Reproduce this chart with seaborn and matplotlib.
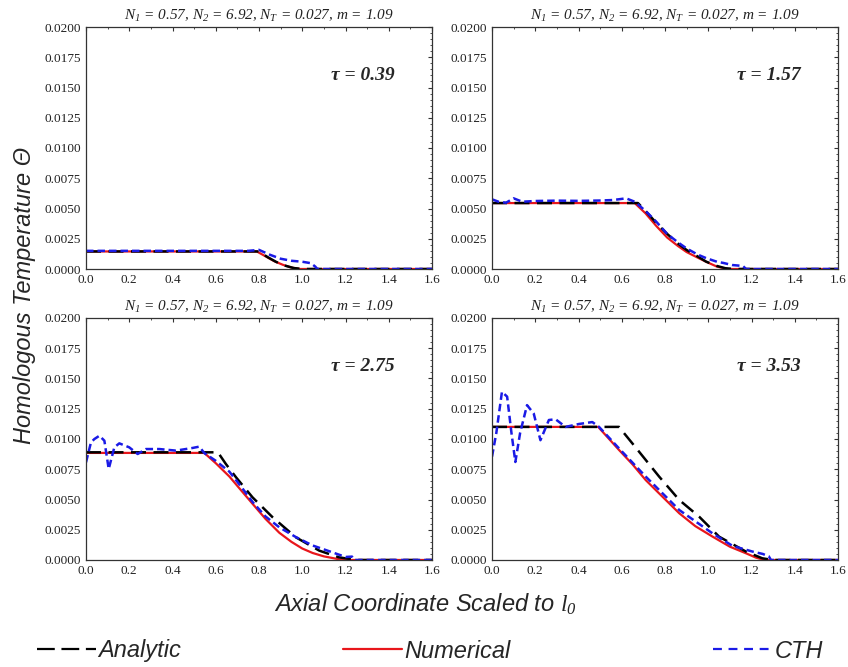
import numpy as np
import pandas as pd
from matplotlib import pyplot as plt
from matplotlib.ticker import AutoMinorLocator, MultipleLocator
from matplotlib.lines import Line2D
import seaborn as sns

sns.set_style('white')
plt.rcParams['mathtext.fontset'] = 'custom'
plt.rcParams['mathtext.it'] = 'Liberation Serif:italic'
plt.rcParams['mathtext.rm'] = 'Liberation Serif:italic'

title_txt = r"$N_1$ = 0.57, $N_2$ = 6.92, $N_T$ = 0.027, $m$ = 1.09"
taus = ['0.39', '1.57', '2.75', '3.53']

# tau = 0.39
x_num1 = [0, 0.79, 0.83, 0.87, 0.91, 0.95, 0.99, 1.6]
y_num1 = [0.00145, 0.00145, 0.00105, 0.00065, 0.00035, 0.00012, 0.0, 0.0]
x_an1 = [0, 0.80, 0.84, 0.88, 0.92, 0.96, 1.0, 1.6]
y_an1 = [0.00145, 0.00145, 0.00098, 0.00058, 0.00028, 0.00008, 0, 0]
x_cth1 = [0, 0.2, 0.4, 0.6, 0.75, 0.80, 0.85, 0.9, 0.95, 1.0, 1.04, 1.06, 1.07, 1.6]
y_cth1 = [0.0015, 0.0015, 0.0015, 0.0015, 0.0015, 0.00158, 0.00118, 0.00085, 0.00068, 0.0006, 0.00048, 0.0002, 0, 0]

# tau = 1.57
x_num2 = [0, 0.66, 0.71, 0.76, 0.81, 0.86, 0.90, 0.95, 0.99, 1.04, 1.09, 1.6]
y_num2 = [0.00545, 0.00545, 0.0046, 0.00355, 0.0026, 0.0019, 0.0014, 0.00095, 0.0006, 0.0002, 0, 0]
x_an2 = [0, 0.675, 0.71, 0.76, 0.81, 0.86, 0.90, 0.95, 0.99, 1.04, 1.08, 1.12, 1.6]
y_an2 = [0.00545, 0.00545, 0.0048, 0.0038, 0.0029, 0.0021, 0.00157, 0.00105, 0.00061, 0.00025, 0.00006, 0, 0]
x_cth2 = [0, 0.03, 0.065, 0.1, 0.14, 0.2, 0.3, 0.4, 0.5, 0.56, 0.62, 0.66, 0.71, 0.76, 0.81, 0.86, 0.9, 0.95,
          0.99, 1.04, 1.07, 1.11, 1.16, 1.175, 1.6]
y_cth2 = [0.00576, 0.00556, 0.00548, 0.00584, 0.00556, 0.00562, 0.00565, 0.00563, 0.00566, 0.0057, 0.00584,
          0.00556, 0.0048, 0.0039, 0.0029, 0.0022, 0.0017, 0.0012, 0.0009, 0.0006, 0.0005, 0.00033, 0.00025, 0, 0]

# tau = 2.75
x_num3 = [0, 0.547, 0.6, 0.663, 0.72, 0.77, 0.83, 0.894, 0.95, 1.0, 1.048, 1.1, 1.17, 1.2, 1.6]
y_num3 = [0.00885, 0.00885, 0.0080, 0.0069, 0.0057, 0.00465, 0.0034, 0.00225, 0.0015, 0.00095, 0.00058, 0.0003,
          0.00006, 0, 0]
x_an3 = [0, 0.61, 0.647, 0.694, 0.77, 0.863, 0.971, 1.079, 1.17, 1.25, 1.6]
y_an3 = [0.0089, 0.0089, 0.00793, 0.00683, 0.00518, 0.00353, 0.00187, 0.00077, 0.00022, 0, 0]
x_cth3 = [0, 0.023, 0.039, 0.062, 0.085, 0.105, 0.131, 0.154, 0.2, 0.239, 0.277, 0.339, 0.416, 0.493, 0.524,
          0.547, 0.6, 0.663, 0.72, 0.77, 0.83, 0.894, 0.97, 1.048, 1.14, 1.2, 1.23, 1.24, 1.6]
y_cth3 = [0.00807, 0.00972, 0.0100, 0.01027, 0.00986, 0.00752, 0.00931, 0.00964, 0.00931, 0.00876, 0.00917,
          0.00917, 0.00904, 0.00926, 0.00937, 0.00884, 0.0082, 0.0073, 0.0060, 0.0048, 0.0036, 0.0027, 0.0019,
          0.0012, 0.00063, 0.00025, 0.00028, 0, 0]

# tau = 3.53
x_num4 = [0, 0.491, 0.587, 0.65, 0.711, 0.79, 0.866, 0.94, 1.02, 1.1, 1.175, 1.22, 1.26, 1.6]
y_num4 = [0.0110, 0.0110, 0.0091, 0.0079, 0.0066, 0.0052, 0.00386, 0.0028, 0.00193, 0.0011, 0.00055, 0.0002, 0, 0]
x_an4 = [0, 0.587, 0.649, 0.773, 0.866, 0.958, 1.05, 1.175, 1.25, 1.3, 1.6]
y_an4 = [0.0110, 0.0110, 0.00964, 0.00689, 0.00496, 0.00358, 0.00193, 0.00069, 0.00014, 0, 0]
x_cth4 = [0, 0.02, 0.046, 0.07, 0.09, 0.108, 0.13, 0.162, 0.193, 0.224, 0.263, 0.294, 0.34, 0.402, 0.464, 0.495,
          0.587, 0.711, 0.866, 1.02, 1.113, 1.206, 1.252, 1.28, 1.29, 1.6]
y_cth4 = [0.00854, 0.0105, 0.0139, 0.0135, 0.0105, 0.0081, 0.0105, 0.0128, 0.0121, 0.0099, 0.01157, 0.01163,
          0.0110, 0.01124, 0.0114, 0.0110, 0.00923, 0.00689, 0.00413, 0.0022, 0.00116, 0.00069, 0.0005, 0.0003, 0, 0]

panels = [
    (x_num1, y_num1, x_an1, y_an1, x_cth1, y_cth1),
    (x_num2, y_num2, x_an2, y_an2, x_cth2, y_cth2),
    (x_num3, y_num3, x_an3, y_an3, x_cth3, y_cth3),
    (x_num4, y_num4, x_an4, y_an4, x_cth4, y_cth4),
]

red = '#e8161b'
blue = '#1a1ae6'
an_dash = (0, (6, 3))
cth_dash = (0, (3, 1.6))

W, H = 848, 667
fig = plt.figure(figsize=(W / 100, H / 100), dpi=100)
boxes = [(86, 27), (492, 27), (86, 318), (492, 318)]
aw, ah = 346, 242

tick_font = {'family': 'Liberation Serif', 'size': 9.5}

for i, (xn, yn, xa, ya, xc, yc) in enumerate(panels):
    l, t = boxes[i]
    ax = fig.add_axes([l / W, 1 - (t + ah) / H, aw / W, ah / H])
    sns.lineplot(x=xn, y=yn, ax=ax, color=red, lw=1.6, sort=False, estimator=None)
    sns.lineplot(x=xa, y=ya, ax=ax, color='black', lw=1.8, linestyle=an_dash, sort=False, estimator=None)
    sns.lineplot(x=xc, y=yc, ax=ax, color=blue, lw=1.8, linestyle=cth_dash, sort=False, estimator=None)
    ax.set_xlim(0, 1.6)
    ax.set_ylim(0, 0.02)
    ax.yaxis.set_minor_locator(AutoMinorLocator(5))
    ax.xaxis.set_minor_locator(AutoMinorLocator(2))
    ax.tick_params(which='both', direction='in', top=True, right=True, colors='#333333')
    ax.tick_params(which='major', length=3, width=0.8)
    ax.tick_params(which='minor', length=1.5, width=0.6)
    ax.tick_params(axis='both', labelcolor='#222222')
    xt = np.arange(0, 1.61, 0.2)
    ax.set_xticks(xt)
    ax.set_xticklabels(['%.1f' % v for v in xt], fontdict=tick_font)
    yt = np.arange(0, 0.02001, 0.0025)
    ax.set_yticks(yt)
    ax.set_yticklabels(['%.4f' % v for v in yt], fontdict=tick_font)
    for s in ax.spines.values():
        s.set_color('#333333')
        s.set_linewidth(0.9)
    ax.set_title(title_txt, fontsize=11, family='Liberation Serif', style='italic', pad=5, color='#222222')
    ax.text(0.8, 0.8, 'τ = ' + taus[i], transform=ax.transAxes, ha='center', va='center',
            fontsize=14, family='Liberation Serif', style='italic', weight='bold')
    ax.set_xlabel('')
    ax.set_ylabel('')

fig.text(25 / W, 1 - 295 / H, 'Homologous Temperature Θ', rotation=90, ha='center', va='center',
         fontsize=17, family='Liberation Sans', style='italic')
fig.text(425 / W, 1 - 604 / H, r'Axial Coordinate Scaled to $l_0$', ha='center', va='center',
         fontsize=17, family='Liberation Sans', style='italic')

leg_font = {'family': 'Liberation Sans', 'style': 'italic', 'size': 17}
entries = [
    (Line2D([], [], color='black', lw=1.6, linestyle=(0, (8, 3))), 'Analytic', 37),
    (Line2D([], [], color=red, lw=1.6), 'Numerical', 343),
    (Line2D([], [], color=blue, lw=1.6, linestyle=(0, (4, 3))), 'CTH', 713),
]
for h, lab, xp in entries:
    fig.legend([h], [lab], loc='center left', bbox_to_anchor=(xp / W, 1 - 651 / H), frameon=False,
               prop=leg_font, handlelength=2.5, handletextpad=0.1, borderpad=0, borderaxespad=0)

fig.savefig('out.png', dpi=100)
